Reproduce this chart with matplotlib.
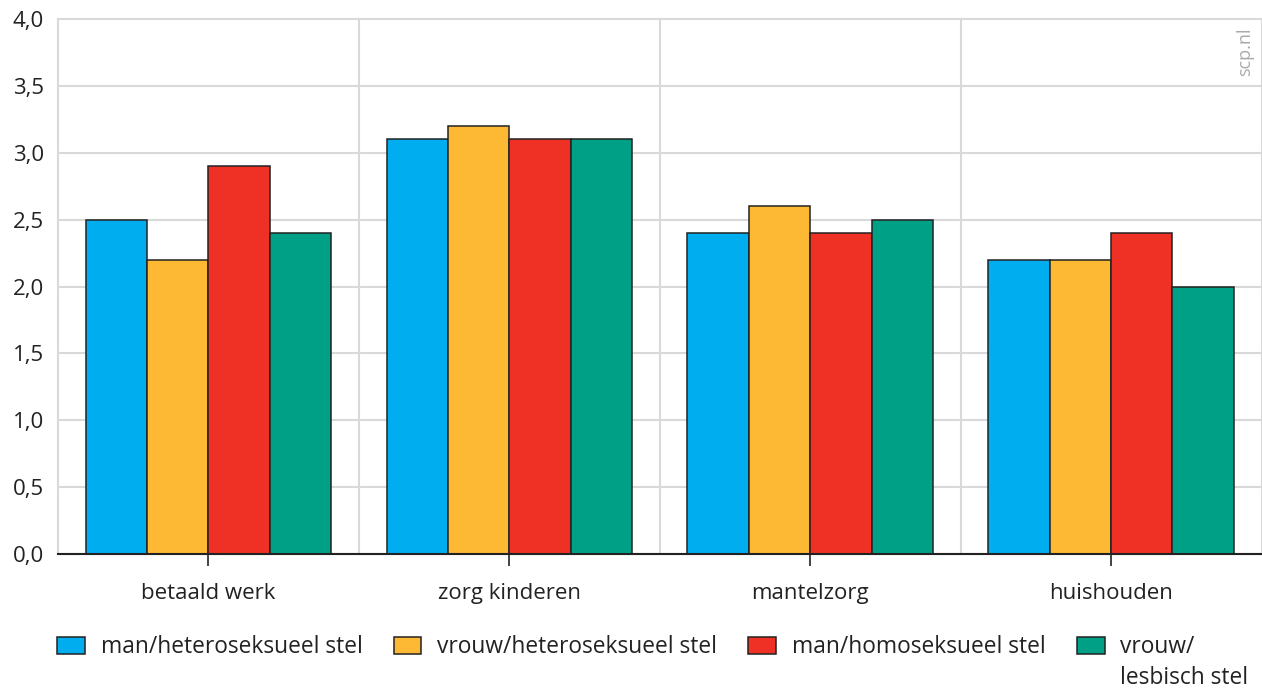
import numpy as np
import matplotlib
matplotlib.use("Agg")
from matplotlib import pyplot as plt
from matplotlib.ticker import FixedLocator, FuncFormatter

# data
categories = ["betaald werk", "zorg kinderen", "mantelzorg", "huishouden"]
series_labels = ["man/heteroseksueel stel", "vrouw/heteroseksueel stel",
                 "man/homoseksueel stel", "vrouw/\nlesbisch stel"]
man_hetero = [2.5, 3.1, 2.4, 2.2]
vrouw_hetero = [2.2, 3.2, 2.6, 2.2]
man_homo = [2.9, 3.1, 2.4, 2.4]
vrouw_lesbisch = [2.4, 3.1, 2.5, 2.0]
y_ticks = [0.0, 0.5, 1.0, 1.5, 2.0, 2.5, 3.0, 3.5, 4.0]

colors = ["#00AEEF", "#FDB933", "#EE3124", "#00A087"]
grid_color = "#D9D9D9"
text_color = "#222222"
fs = 16
leg_fs = 16.4

plt.rcParams['font.family'] = ['Open Sans', 'DejaVu Sans']

fig = plt.figure(figsize=(12.62, 6.88), dpi=100)
W, H = 1262, 688
ax = fig.add_axes([58 / W, (H - 554) / H, (1261.5 - 58) / W, (554 - 19) / H])

x = np.arange(len(categories))
bar_w = 0.204
all_series = [man_hetero, vrouw_hetero, man_homo, vrouw_lesbisch]
for i, (vals, col, lab) in enumerate(zip(all_series, colors, series_labels)):
    offset = (i - 1.5) * bar_w
    # legend gets only the first line; extra lines are added below it later
    ax.bar(x + offset, vals, width=bar_w, color=col, edgecolor=text_color,
           linewidth=1.1, label=lab.split("\n")[0], zorder=3)

ax.set_xlim(-0.5, len(categories) - 0.5)
ax.set_ylim(0, 4.0)
ax.set_xticks(x)
ax.set_xticklabels(categories)
ax.xaxis.set_minor_locator(FixedLocator(np.arange(-0.5, len(categories), 1.0)))
ax.set_yticks(y_ticks)
ax.yaxis.set_major_formatter(FuncFormatter(lambda v, p: f"{v:.1f}".replace(".", ",")))

ax.grid(axis="y", which="major", color=grid_color, linewidth=1.5, zorder=0)
ax.grid(axis="x", which="minor", color=grid_color, linewidth=1.5, zorder=0)
ax.grid(axis="x", which="major", visible=False)
ax.set_axisbelow(True)
for t in ax.yaxis.get_major_ticks() + ax.xaxis.get_minor_ticks():
    t.gridline.set_clip_on(False)

for s in ["top", "right", "left"]:
    ax.spines[s].set_visible(False)
ax.spines["bottom"].set_color(text_color)
ax.spines["bottom"].set_linewidth(1.5)
ax.spines["bottom"].set_zorder(4)

ax.tick_params(axis="y", length=0, pad=10, labelsize=fs, labelcolor=text_color)
ax.tick_params(axis="x", which="major", length=8.5, width=1.2, color=text_color,
               pad=12.5, labelsize=fs, labelcolor=text_color)
ax.tick_params(axis="x", which="minor", length=0)

fig.text(1245 / W, 1 - 27 / H, "scp.nl", rotation=90, ha="center", va="top",
         fontsize=13, color="#AAAAAA")

leg = fig.legend(loc="upper left", bbox_to_anchor=(57 / W, 1 - 635 / H), ncol=4,
                 frameon=False, fontsize=leg_fs, handlelength=1.22, handleheight=0.78,
                 handletextpad=0.7, columnspacing=1.36, borderaxespad=0,
                 borderpad=0, labelcolor=text_color)

# extra label lines under the legend entry
fig.canvas.draw()
inv = fig.transFigure.inverted()
for txt, lab in zip(leg.get_texts(), series_labels):
    rest = lab.split("\n")[1:]
    if rest:
        bb = txt.get_window_extent()
        x0, y0 = inv.transform((bb.x0, bb.y0))
        fig.text(x0, y0 - 7 / H, "\n".join(rest), ha="left", va="top",
                 fontsize=leg_fs, color=text_color)

fig.savefig("out.png", dpi=100)
